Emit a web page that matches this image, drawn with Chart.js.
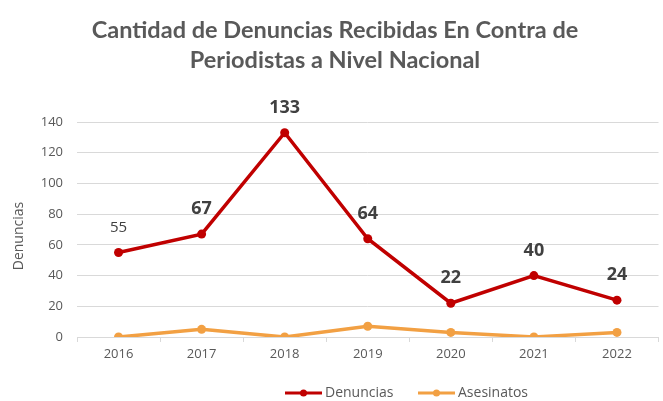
<!DOCTYPE html>
<html lang="es">
<head>
  <meta charset="UTF-8" />
  <title>Cantidad de Denuncias</title>
  <script src="https://cdn.jsdelivr.net/npm/chart.js"></script>
  <style>
    html, body { margin: 0; padding: 0; background: #fff; }
    #wrap { width: 663px; height: 401px; position: relative; }
  </style>
</head>
<body>
  <div id="wrap"><canvas id="chart" width="663" height="401"></canvas></div>

  <script>
    const years = ['2016', '2017', '2018', '2019', '2020', '2021', '2022'];
    const denuncias = [55, 67, 133, 64, 22, 40, 24];
    const asesinatos = [0, 5, 0, 7, 3, 0, 3];
    const yTicks = [0, 20, 40, 60, 80, 100, 120, 140];
    const titleLines = ['Cantidad de Denuncias Recibidas En Contra de', 'Periodistas a Nivel Nacional'];

    const red = '#C00000';
    const orange = '#F2A043';
    const textGray = '#595959';

    // title, axis title, value labels and legend drawn by hand
    const extras = {
      id: 'extras',
      afterDraw(chart) {
        const ctx = chart.ctx;
        ctx.save();
        ctx.fillStyle = textGray;
        ctx.textAlign = 'center';
        ctx.textBaseline = 'middle';
        ctx.font = 'bold 23.5px Lato, "Open Sans", sans-serif';
        ctx.fillText(titleLines[0], 335, 30);
        ctx.fillText(titleLines[1], 335, 60);

        ctx.save();
        ctx.translate(19, 236);
        ctx.rotate(-Math.PI / 2);
        ctx.font = '14px "Open Sans", sans-serif';
        ctx.fillText('Denuncias', 0, 0);
        ctx.restore();

        const meta = chart.getDatasetMeta(0);
        meta.data.forEach((pt, i) => {
          ctx.fillStyle = '#404040';
          ctx.font = i === 0 ? '15px "Open Sans", sans-serif' : 'bold 18px "Open Sans", sans-serif';
          ctx.fillText(String(denuncias[i]), pt.x, pt.y - 25);
        });

        const items = [['Denuncias', red, 285], ['Asesinatos', orange, 418]];
        items.forEach(([name, col, x0]) => {
          const y = 393;
          ctx.strokeStyle = col;
          ctx.lineWidth = 3;
          ctx.beginPath();
          ctx.moveTo(x0, y);
          ctx.lineTo(x0 + 37, y);
          ctx.stroke();
          ctx.fillStyle = col;
          ctx.beginPath();
          ctx.arc(x0 + 18.5, y, 3.5, 0, Math.PI * 2);
          ctx.fill();
          ctx.fillStyle = textGray;
          ctx.textAlign = 'left';
          ctx.font = '14px "Open Sans", sans-serif';
          ctx.fillText(name, x0 + 40, y);
        });
        ctx.restore();
      }
    };

    new Chart(document.getElementById('chart'), {
      type: 'line',
      data: {
        labels: years,
        datasets: [
          {
            label: 'Denuncias',
            data: denuncias,
            borderColor: red,
            backgroundColor: red,
            borderWidth: 3.5,
            pointRadius: 4.5,
            pointBackgroundColor: red,
            pointBorderWidth: 0,
            tension: 0
          },
          {
            label: 'Asesinatos',
            data: asesinatos,
            borderColor: orange,
            backgroundColor: orange,
            borderWidth: 3.5,
            pointRadius: 4.5,
            pointBackgroundColor: orange,
            pointBorderWidth: 0,
            tension: 0
          }
        ]
      },
      options: {
        responsive: false,
        animation: false,
        layout: { padding: { top: 122, right: 4, bottom: 34, left: 0 } },
        plugins: {
          legend: { display: false },
          title: { display: false },
          tooltip: { enabled: false }
        },
        scales: {
          x: {
            offset: true,
            afterFit(scale) { scale.height = 30; },
            grid: { offset: true, drawOnChartArea: false, drawTicks: true, tickLength: 5, color: '#d9d9d9' },
            border: { color: '#d9d9d9' },
            ticks: { color: textGray, font: { family: '"Open Sans", sans-serif', size: 13 }, padding: 4 }
          },
          y: {
            min: 0,
            max: 140,
            afterFit(scale) { scale.width = 77; },
            afterBuildTicks(scale) { scale.ticks = yTicks.map(v => ({ value: v })); },
            grid: { color: '#d9d9d9', drawTicks: false },
            border: { display: false },
            ticks: { color: textGray, font: { family: '"Open Sans", sans-serif', size: 13 }, padding: 14 }
          }
        }
      },
      plugins: [extras]
    });
  </script>
</body>
</html>
